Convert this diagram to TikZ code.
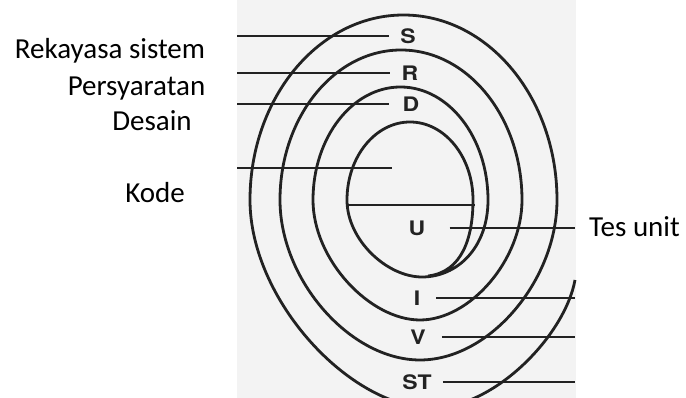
\documentclass[tikz,border=0pt]{standalone}
\usepackage{fontspec}
\setmainfont{Carlito}
\newfontfamily\scanfont[FakeStretch=1.15]{TeX Gyre Heros}
\usepackage{xcolor}
\definecolor{ScanInk}{HTML}{222222}
\definecolor{ScanPaper}{HTML}{F3F3F3}
\tikzset{
  spiral/.style={draw=ScanInk,line width=2.8pt,line join=round},
  leader/.style={draw=ScanInk,line width=2.6pt},
  letter/.style={font=\scanfont\bfseries\fontsize{20}{24}\selectfont,text=ScanInk,inner sep=0pt},
  phase/.style={font=\fontsize{29}{34}\selectfont,anchor=base,inner sep=0pt}
}
\begin{document}
\begin{tikzpicture}[x=1pt,y=1pt]
  \clip (0,0) rectangle (686,398);
  \fill[ScanPaper] (237,0) rectangle (576,398);
  \node[phase] (rek) at (110,339) {Rekayasa sistem};
  \node[phase] (per) at (136.5,302) {Persyaratan};
  \node[phase] (des) at (152,267) {Desain};
  \node[phase] (kod) at (155,195) {Kode};
  \node[phase] (tes) at (634.5,161) {Tes unit};
  \node[letter] (S) at (408,362) {S};
  \node[letter] (R) at (410,325) {R};
  \node[letter] (D) at (411,294) {D};
  \node[letter] (U) at (417,170) {U};
  \node[letter] (I) at (417,100) {I};
  \node[letter] (V) at (418,61) {V};
  \node[letter] (ST) at (417,16) {ST};
  \coordinate (sL) at (237,362); \coordinate (rL) at (237,325);
  \coordinate (dL) at (237,294); \coordinate (kL) at (237,230);
  \coordinate (kR) at (392,230);
  \coordinate (cL) at (347,193); \coordinate (cR) at (475,193);
  \coordinate (uR) at (575,170); \coordinate (iR) at (575,100);
  \coordinate (vR) at (575,61);  \coordinate (tR) at (575,16);
  \draw[leader,shorten >=11pt] (sL) -- (S);
  \draw[leader,shorten >=12pt] (rL) -- (R);
  \draw[leader,shorten >=14pt] (dL) -- (D);
  \draw[leader] (kL) -- (kR);
  \draw[leader] (cL) -- (cR);
  \draw[leader,shorten <=24pt] (U) -- (uR);
  \draw[leader,shorten <=16pt] (I) -- (iR);
  \draw[leader,shorten <=16pt] (V) -- (vR);
  \draw[leader,shorten <=11pt] (ST) -- (tR);
  \draw[spiral] (428,122) .. controls (462,126) and (473,160) .. (473,198)
    arc[start angle=0,end angle=180,x radius=63,y radius=78]
    .. controls (347,158) and (387,121) .. (422,121)
    .. controls (457,121) and (488,150) .. (488,198)
    arc[start angle=0,end angle=180,x radius=87.5,y radius=113]
    .. controls (313,138) and (370,78) .. (420,78)
    .. controls (470,78) and (522,138) .. (522,198)
    arc[start angle=0,end angle=180,x radius=121,y radius=150]
    .. controls (280,118) and (350,38) .. (420,38)
    .. controls (490,38) and (557,118) .. (557,198)
    arc[start angle=0,end angle=180,x radius=153.5,y radius=185]
    .. controls (250,98) and (350,-10) .. (432,-10)
    .. controls (495,-10) and (565,63) .. (575,118);
\end{tikzpicture}
\end{document}
